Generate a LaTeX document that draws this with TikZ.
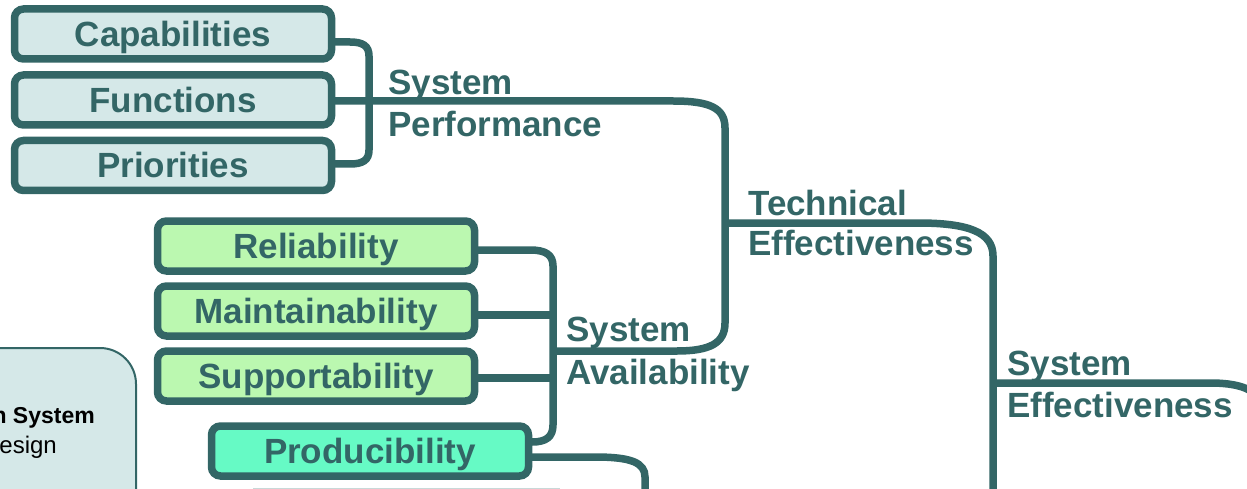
\documentclass[tikz,border=0pt]{standalone}
\usepackage{fontspec}
\setmainfont{Liberation Sans}
\definecolor{lc}{HTML}{336666}
\definecolor{fcap}{HTML}{D5E8E8}
\definecolor{fgr}{HTML}{BBF8B0}
\definecolor{fmint}{HTML}{66FAC5}
\definecolor{fbig}{HTML}{D5E8E8}
\definecolor{faint}{HTML}{C8D8D8}
\begin{document}
\begin{tikzpicture}[x=1pt,y=-1pt,
  conn/.style={draw=lc, line width=7.5pt},
  box/.style={draw=lc, line width=7.5pt, rounded corners=9pt, minimum width=317pt,
    minimum height=50pt, inner sep=0pt, outer sep=0pt, text=lc,
    font=\fontsize{35}{42}\selectfont\bfseries, text height=25pt, text depth=0pt},
  lbl/.style={anchor=base west, inner sep=0pt, text=lc,
    font=\fontsize{35}{42}\selectfont\bfseries},
]
\useasboundingbox (0,0) rectangle (1247,489);
\clip (0,0) rectangle (1247,489);

% big partial box
\draw[draw=lc, fill=fbig, line width=2pt, rounded corners=36pt] (-60,348) rectangle (136,620);
\node[anchor=base east, inner sep=0pt, font=\fontsize{23}{27}\selectfont\bfseries] (bx1) at (95,423) {n System};
\node[anchor=base east, inner sep=0pt, font=\fontsize{24}{28}\selectfont] (bx2) at (57,453) {esign};

% faint edge of a box below
\coordinate (f1) at (253,488.5);
\coordinate (f2) at (560,488.5);
\draw[faint, line width=1.5pt] (f1) -- (f2);

% boxes
\node[box, fill=fcap] (cap) at (173,34) {Capabilities};
\node[box, fill=fcap] (fun) at (173,100) {Functions};
\node[box, fill=fcap] (pri) at (173,165.5) {Priorities};
\node[box, fill=fgr] (rel) at (316,246) {Reliability};
\node[box, fill=fgr] (mai) at (316,311) {Maintainability};
\node[box, fill=fgr] (sup) at (316,376) {Supportability};
\node[box, fill=fmint] (pro) at (370,451) {Producibility};

% junctions
\coordinate (jT) at (725,223);
\coordinate (jA) at (553,351);
\coordinate (jE) at (993,383);
\coordinate (eT) at (993,500);
\coordinate (eS) at (1262,500);
\coordinate (eP) at (645,500);

% system performance bracket
\draw[conn] ([yshift=-8pt]cap.east) -- (350,42) .. controls (363,42) and (369,46) .. (369,56)
  -- (369,150) .. controls (369,160) and (363,164) .. (350,164) -- ([yshift=1.5pt]pri.east);
% functions -> technical
\draw[conn] ([yshift=-1pt]fun.east) -- (673,101) .. controls (710,101) and (725,108) .. (725,128)
  -- (725,323) .. controls (725,343) and (710,351) .. (677,351) -- (jA);
% technical -> system effectiveness
\draw[conn] (jT) -- (918,223) .. controls (968,223) and (993,232) .. (993,256) -- (eT);
% system effectiveness -> right
\draw[conn] (jE) -- (1210,383) .. controls (1245,383) and (1262,392) .. (1262,412) -- (eS);
% availability bracket
\draw[conn] ([yshift=-4pt]rel.east) -- (530,250) .. controls (546,250) and (553,255) .. (553,266)
  -- (553,425) .. controls (553,437) and (546,442) .. (532,442) -- ([yshift=9pt]pro.east);
\draw[conn] ([yshift=-4pt]mai.east) -- (553,315);
\draw[conn] ([yshift=-2pt]sup.east) -- (553,378);
% producibility -> down
\draw[conn] ([yshift=-6pt]pro.east) -- (595,457) .. controls (632,457) and (645,463) .. (645,477) -- (eP);

% labels
\node[lbl] (sp1) at (388,95) {System};
\node[lbl] (sp2) at (388,137) {Performance};
\node[lbl] (te1) at (748,215) {Technical};
\node[lbl] (te2) at (748,255) {Effectiveness};
\node[lbl] (sa1) at (566,341) {System};
\node[lbl] (sa2) at (566,384) {Availability};
\node[lbl] (se1) at (1007,375) {System};
\node[lbl] (se2) at (1007,417) {Effectiveness};
\end{tikzpicture}
\end{document}
